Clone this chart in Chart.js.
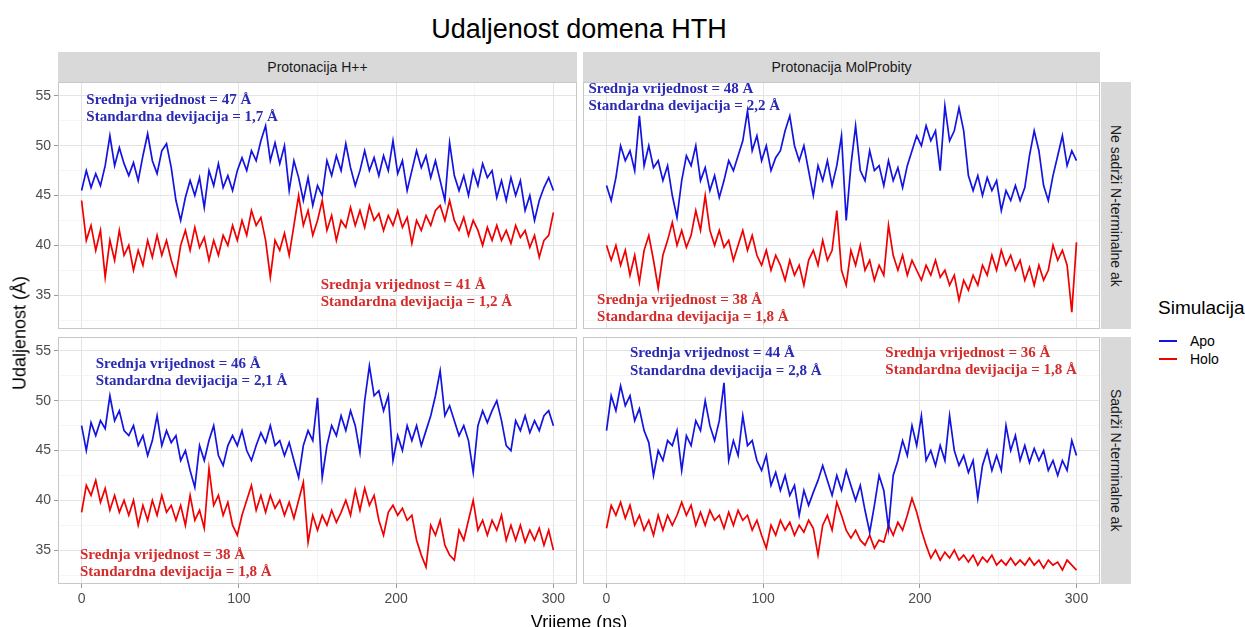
<!DOCTYPE html>
<html lang="hr">
<head>
<meta charset="UTF-8" />
<title>Udaljenost domena HTH</title>
<script src="https://cdn.jsdelivr.net/npm/chart.js@4.4.1/dist/chart.umd.min.js"></script>
<style>
  html, body { margin:0; padding:0; background:#fff; }
  body { width:1245px; height:627px; overflow:hidden; position:relative; font-family:'Liberation Sans', Arial, sans-serif; }
  canvas { position:absolute; }
  .title { position:absolute; left:58px; width:1042px; top:14px; text-align:center; font-size:27px; line-height:30px; color:#000; }
  .strip { position:absolute; background:#d9d9d9; color:#1a1a1a; font-size:14px; display:flex; align-items:center; justify-content:center; }
  .strip.side { writing-mode:vertical-rl; }
  .ytitle { position:absolute; left:20px; top:333px; transform:translate(-50%,-50%) rotate(-90deg); font-size:18px; white-space:nowrap; }
  .xtitle { position:absolute; left:579px; top:612px; transform:translateX(-50%); font-size:18px; line-height:20px; white-space:nowrap; }
  .legend { position:absolute; left:1158px; top:296px; }
  .legend .lt { font-size:19px; line-height:24px; margin-bottom:12px; }
  .legend .row { display:flex; align-items:center; height:18px; font-size:14px; }
  .legend .sw { width:18px; height:2px; margin:0 13px 0 1px; }
</style>
</head>
<body>
<div class="title">Udaljenost domena HTH</div>

<div class="strip" style="left:58px;top:52px;width:519px;height:30px;">Protonacija H++</div>
<div class="strip" style="left:583px;top:52px;width:517px;height:30px;">Protonacija MolProbity</div>
<div class="strip side" style="left:1101px;top:82px;width:30px;height:247px;">Ne sadrži N-terminalne ak</div>
<div class="strip side" style="left:1101px;top:337px;width:30px;height:247px;">Sadrži N-terminalne ak</div>

<canvas id="tl" width="577" height="247" style="left:0;top:82px;"></canvas>
<canvas id="tr" width="517" height="247" style="left:583px;top:82px;"></canvas>
<canvas id="bl" width="577" height="277" style="left:0;top:337px;"></canvas>
<canvas id="br" width="517" height="277" style="left:583px;top:337px;"></canvas>

<div class="ytitle">Udaljenost (Å)</div>
<div class="xtitle">Vrijeme (ns)</div>

<div class="legend">
  <div class="lt">Simulacija</div>
  <div class="row"><span class="sw" style="background:#1414e0"></span>Apo</div>
  <div class="row"><span class="sw" style="background:#f00000"></span>Holo</div>
</div>

<script>
// time axis, every 3 ns from 0 to 300
const time = Array.from({length:101}, (_, i) => i * 3);
const xTicks = [0, 50, 100, 150, 200, 250, 300];
const yTicks = [32.5, 35, 37.5, 40, 42.5, 45, 47.5, 50, 52.5, 55];

// Protonacija H++ / Ne sadrzi N-terminalne ak
const tlApo = [
  45.5,47.5,45.8,47.2,46.0,48.0,51.0,48.0,49.8,48.2,
  47.0,48.3,46.5,49.0,51.2,48.5,47.2,49.5,50.2,47.8,
  44.5,42.5,44.8,46.5,45.0,46.8,43.8,47.5,46.0,48.2,
  45.8,47.0,45.5,47.5,48.8,47.5,49.5,48.5,50.5,52.0,
  48.5,50.3,48.2,50.0,45.5,48.5,46.8,44.5,46.8,44.0,
  46.0,45.0,48.5,47.0,49.0,47.5,50.2,47.8,46.0,47.5,
  49.5,47.5,48.8,47.0,49.0,47.5,50.5,47.2,48.5,45.5,
  47.5,49.5,47.8,49.0,46.8,48.5,46.5,44.5,50.3,47.0,
  45.5,47.0,45.0,47.5,46.0,48.2,46.8,47.5,44.8,46.5,
  44.5,46.8,45.0,46.5,43.5,45.0,42.5,44.5,45.8,46.8,
  45.5];
const tlHolo = [
  44.5,40.5,42.0,39.5,41.5,36.8,40.5,38.5,41.5,39.0,
  40.0,37.5,39.5,38.0,40.5,38.8,41.0,39.0,40.5,38.5,
  37.0,40.0,41.5,39.5,41.8,39.8,40.8,38.5,40.5,39.0,
  41.0,40.0,42.0,40.5,42.5,41.0,43.5,42.0,42.8,40.5,
  36.8,40.5,39.5,41.2,39.0,42.0,45.0,42.0,43.5,41.0,
  42.5,44.5,41.5,43.0,40.5,42.5,41.8,43.8,42.0,43.5,
  41.8,44.0,42.5,43.2,41.5,43.0,42.0,43.5,41.8,42.8,
  40.2,42.5,41.5,43.0,42.0,43.5,44.0,42.5,44.5,42.5,
  41.5,42.8,41.0,42.5,41.5,40.0,41.8,40.5,42.0,40.5,
  41.5,40.2,42.0,40.8,41.5,39.8,41.0,38.8,40.5,41.0,
  43.3];

// Protonacija MolProbity / Ne sadrzi N-terminalne ak
const trApo = [
  46.0,44.5,46.8,50.0,48.5,49.5,47.5,53.0,48.0,50.0,
  47.8,48.5,46.5,48.0,45.0,42.8,46.5,49.0,48.0,50.0,
  46.5,47.8,45.5,47.0,44.8,46.5,48.5,47.5,49.0,50.5,
  53.5,49.5,51.0,48.5,50.0,47.5,48.8,49.5,51.5,53.0,
  50.0,48.5,50.0,47.5,45.0,48.0,46.5,48.5,46.0,48.0,
  51.0,42.5,48.0,52.0,47.5,46.5,49.5,47.5,48.0,46.0,
  48.5,46.5,47.8,45.8,48.0,49.5,51.0,50.0,52.0,50.5,
  51.5,47.5,54.0,50.5,51.5,53.8,51.5,47.0,45.5,47.0,
  45.0,46.8,45.5,46.5,43.5,45.5,44.5,46.0,44.5,45.8,
  49.0,51.5,49.5,46.0,44.5,47.0,49.0,51.0,48.0,49.5,
  48.5];
const trHolo = [
  40.0,38.5,40.0,38.0,39.5,37.0,39.0,36.3,39.5,41.0,
  38.5,35.7,39.0,40.5,42.3,40.0,41.5,39.8,41.0,43.5,
  41.5,45.0,41.5,40.0,41.5,39.8,40.5,38.5,40.0,41.5,
  39.5,41.0,39.0,38.0,39.5,37.5,39.0,38.0,36.5,38.5,
  37.0,38.0,36.0,38.5,39.5,38.0,40.5,38.5,39.5,43.5,
  37.5,36.0,39.5,38.0,40.0,37.5,38.5,36.5,38.0,37.0,
  42.0,39.0,37.5,39.0,37.0,38.5,37.5,36.5,38.0,37.0,
  38.5,36.8,37.5,36.0,37.0,34.5,36.5,35.5,37.0,36.0,
  38.0,37.0,39.0,37.5,39.5,38.0,39.0,37.5,38.5,36.5,
  37.8,36.0,38.0,36.5,37.5,40.0,38.5,39.5,38.0,33.3,
  40.3];

// Protonacija H++ / Sadrzi N-terminalne ak
const blApo = [
  47.5,45.0,47.8,46.5,48.0,47.2,50.5,48.0,49.0,47.0,
  46.5,47.5,45.5,46.5,44.5,46.0,48.5,45.5,47.0,45.8,
  46.5,44.0,45.0,43.0,41.3,45.5,44.0,46.0,47.5,44.5,
  43.5,45.5,46.5,45.5,47.0,45.0,44.0,45.5,46.8,45.8,
  47.5,45.5,46.0,44.5,45.8,44.0,42.3,45.5,47.0,46.0,
  50.3,42.3,45.5,47.5,46.5,48.5,47.0,49.0,47.5,44.8,
  50.0,53.5,50.5,51.0,49.0,50.5,44.0,46.5,45.0,47.5,
  46.0,47.5,45.5,47.0,48.5,50.5,53.0,48.5,49.5,48.0,
  46.5,47.5,46.0,42.8,47.5,49.0,47.8,49.0,50.0,48.0,
  45.5,45.0,48.0,47.0,48.5,46.8,48.0,47.0,48.5,49.0,
  47.5];
const blHolo = [
  38.8,41.5,40.5,42.0,39.8,41.2,39.0,40.5,38.8,40.0,
  38.5,40.0,37.5,39.5,38.0,40.0,38.5,40.5,38.8,39.5,
  38.0,39.5,37.5,40.5,38.0,39.0,37.2,43.2,39.5,40.5,
  38.5,39.8,37.5,36.5,38.5,40.0,41.5,39.0,40.5,38.8,
  40.5,39.2,40.0,38.5,39.8,38.2,40.0,41.8,35.8,38.5,
  37.0,38.5,37.5,39.0,37.8,38.8,40.0,38.5,41.0,39.0,
  41.2,39.5,40.5,38.0,36.5,38.8,39.5,38.5,39.2,38.0,
  38.5,36.0,34.5,33.3,37.5,36.5,38.0,35.5,34.5,34.0,
  37.0,36.0,38.0,40.0,37.0,38.0,36.5,38.0,37.0,38.5,
  36.0,37.5,36.0,37.5,35.8,37.0,36.0,37.2,35.5,37.0,
  35.0];

// Protonacija MolProbity / Sadrzi N-terminalne ak
const brApo = [
  47.0,50.5,49.0,51.5,49.5,50.5,48.0,49.2,47.0,45.8,
  42.5,45.0,44.0,46.0,45.5,47.0,43.0,46.5,45.5,48.0,
  47.0,50.0,47.5,46.0,48.0,51.8,44.0,46.0,44.5,48.5,
  45.5,46.0,44.0,43.0,44.5,41.5,42.8,41.0,42.5,40.5,
  41.5,38.5,41.0,39.5,40.8,42.0,43.5,42.0,40.5,42.5,
  41.0,43.0,41.5,40.0,41.5,39.0,36.8,39.5,42.5,41.0,
  37.2,42.5,44.0,46.0,44.5,47.5,45.5,48.5,44.0,45.0,
  43.5,45.5,44.0,48.5,45.0,43.5,44.5,42.8,44.0,40.2,
  43.5,45.0,43.0,44.5,43.0,47.5,45.0,46.5,44.0,45.5,
  43.8,45.2,44.0,45.0,43.0,44.0,42.5,44.0,43.0,46.0,
  44.5];
const brHolo = [
  37.2,39.5,38.5,39.8,38.2,39.5,37.5,38.5,37.0,38.0,
  36.5,38.5,37.0,38.5,37.5,38.5,39.8,38.5,39.5,37.5,
  38.8,37.5,39.0,38.0,38.5,37.2,38.8,37.5,39.0,38.0,
  38.5,37.0,38.0,36.5,35.2,37.5,36.5,38.0,37.0,37.8,
  36.5,37.5,36.8,38.0,37.2,34.5,37.5,38.5,37.0,39.8,
  38.5,37.0,36.2,37.0,36.0,35.5,36.5,35.2,36.0,35.8,
  37.5,36.5,37.8,37.0,38.5,40.2,38.8,37.0,35.5,34.2,
  35.0,34.0,34.8,34.2,35.0,34.0,34.5,33.8,34.5,33.5,
  34.3,33.8,34.5,33.5,34.0,33.5,34.2,33.5,34.0,33.5,
  34.2,33.5,34.0,33.2,34.0,33.5,33.8,33.0,34.0,33.5,
  33.0];

// annotation texts: mean / sd per panel
const tlNotes = [
  {x:3,   y:[54.6, 52.9], color:'#2a2ab4', lines:['Srednja vrijednost = 47 Å', 'Standardna devijacija = 1,7 Å']},
  {x:152, y:[36.0, 34.3], color:'#d42b2b', lines:['Srednja vrijednost = 41 Å', 'Standardna devijacija = 1,2 Å']}
];
const trNotes = [
  {x:-11.5, y:[55.7, 54.0], color:'#2a2ab4', lines:['Srednja vrijednost = 48 Å', 'Standardna devijacija = 2,2 Å']},
  {x:-6,    y:[34.5, 32.8], color:'#d42b2b', lines:['Srednja vrijednost = 38 Å', 'Standardna devijacija = 1,8 Å']}
];
const blNotes = [
  {x:9,  y:[53.7, 52.0], color:'#2a2ab4', lines:['Srednja vrijednost = 46 Å', 'Standardna devijacija = 2,1 Å']},
  {x:-1, y:[34.5, 32.8], color:'#d42b2b', lines:['Srednja vrijednost = 38 Å', 'Standardna devijacija = 1,8 Å']}
];
const brNotes = [
  {x:15,  y:[54.8, 53.0], color:'#2a2ab4', lines:['Srednja vrijednost = 44 Å', 'Standardna devijacija = 2,8 Å']},
  {x:178, y:[54.8, 53.1], color:'#d42b2b', lines:['Srednja vrijednost = 36 Å', 'Standardna devijacija = 1,8 Å']}
];

const APO = '#1414e0', HOLO = '#f00000';

// text labels + panel frame
const panelPlugin = {
  id: 'panel',
  afterDatasetsDraw(chart, args, opts) {
    const { ctx, scales: { x, y } } = chart;
    ctx.save();
    ctx.font = 'bold 15px "Liberation Serif", serif';
    ctx.textBaseline = 'middle';
    ctx.textAlign = 'left';
    opts.notes.forEach(n => {
      ctx.fillStyle = n.color;
      n.lines.forEach((t, i) => ctx.fillText(t, x.getPixelForValue(n.x), y.getPixelForValue(n.y[i])));
    });
    const a = chart.chartArea;
    ctx.strokeStyle = '#c8c8c8';
    ctx.lineWidth = 1;
    ctx.strokeRect(a.left + 0.5, a.top + 0.5, a.right - a.left - 1, a.bottom - a.top - 1);
    ctx.restore();
  }
};

const isMajorX = v => v % 100 === 0;
const isMajorY = v => Math.abs(v % 5) < 1e-6;
const noPad = s => { s.paddingTop = 0; s.paddingBottom = 0; s.paddingLeft = 0; s.paddingRight = 0; };

function makePanel(id, apo, holo, notes, showX, showY) {
  return new Chart(document.getElementById(id), {
    type: 'line',
    data: {
      datasets: [
        { label: 'Apo',  data: apo.map((v, i) => ({ x: time[i], y: v })),  borderColor: APO },
        { label: 'Holo', data: holo.map((v, i) => ({ x: time[i], y: v })), borderColor: HOLO }
      ]
    },
    options: {
      responsive: false, animation: false, events: [],
      layout: { padding: 0, autoPadding: false },
      elements: { point: { radius: 0 }, line: { borderWidth: 1.7, tension: 0 } },
      plugins: { legend: { display: false }, tooltip: { enabled: false }, panel: { notes } },
      scales: {
        x: {
          type: 'linear', min: -15, max: 315,
          afterBuildTicks: s => { s.ticks = xTicks.map(v => ({ value: v })); },
          afterFit: s => { s.height = showX ? 30 : 0; noPad(s); },
          border: { display: false },
          grid: {
            color: c => isMajorX(c.tick.value) ? '#e4e4e4' : '#f1f1f1',
            lineWidth: c => isMajorX(c.tick.value) ? 1 : 0.7,
            drawTicks: showX, tickLength: 4,
            tickColor: c => isMajorX(c.tick.value) ? '#999' : 'rgba(0,0,0,0)'
          },
          ticks: {
            display: showX, autoSkip: false, maxRotation: 0, padding: 3,
            color: '#4d4d4d', font: { family: 'Liberation Sans', size: 14 },
            callback: v => isMajorX(v) ? v : ''
          }
        },
        y: {
          min: 31.6, max: 56.4,
          afterBuildTicks: s => { s.ticks = yTicks.map(v => ({ value: v })); },
          afterFit: s => { s.width = showY ? 58 : 0; noPad(s); },
          border: { display: false },
          grid: {
            color: c => isMajorY(c.tick.value) ? '#e4e4e4' : '#f1f1f1',
            lineWidth: c => isMajorY(c.tick.value) ? 1 : 0.7,
            drawTicks: showY, tickLength: 4,
            tickColor: c => isMajorY(c.tick.value) ? '#999' : 'rgba(0,0,0,0)'
          },
          ticks: {
            display: showY, autoSkip: false, padding: 3,
            color: '#4d4d4d', font: { family: 'Liberation Sans', size: 14 },
            callback: v => isMajorY(v) ? v : ''
          }
        }
      }
    },
    plugins: [panelPlugin]
  });
}

makePanel('tl', tlApo, tlHolo, tlNotes, false, true);
makePanel('tr', trApo, trHolo, trNotes, false, false);
makePanel('bl', blApo, blHolo, blNotes, true, true);
makePanel('br', brApo, brHolo, brNotes, true, false);
</script>
</body>
</html>
